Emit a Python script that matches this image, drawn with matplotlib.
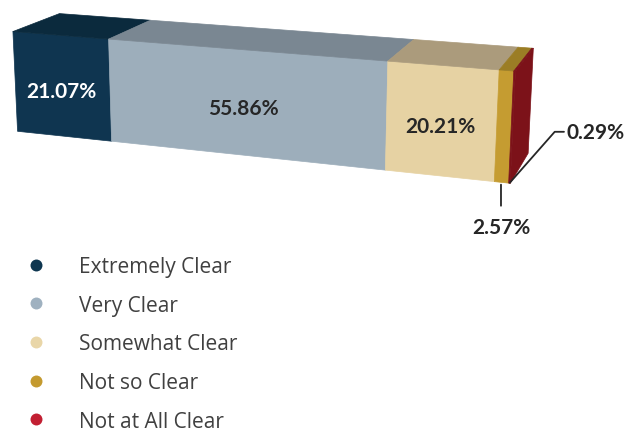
import numpy as np
import matplotlib
matplotlib.use('Agg')
import matplotlib.pyplot as plt
from matplotlib.lines import Line2D
from mpl_toolkits.mplot3d import proj3d
from mpl_toolkits.mplot3d.art3d import Poly3DCollection

# data
categories = ['Extremely Clear', 'Very Clear', 'Somewhat Clear', 'Not so Clear', 'Not at All Clear']
values = [21.07, 55.86, 20.21, 2.57, 0.29]
labels = ['21.07%', '55.86%', '20.21%', '2.57%', '0.29%']

# colours: front face, top face, legend dot
front_cols = ['#0f3550', '#9daebb', '#e6d2a3', '#c59c31', '#7c1219']
top_cols = ['#0b2a3d', '#7a8792', '#ab9b7c', '#9b7d25', '#7c1219']
dot_cols = ['#0e3650', '#9fb1c0', '#e9d6a8', '#c49a2f', '#c21f32']
label_cols = ['white', '#262626', '#262626', '#262626', '#262626']

W, HF = 626, 431
fig = plt.figure(figsize=(W / 100, HF / 100), dpi=100)

# 3d box view (fitted to look like the original perspective)
cx, cy, s = 258.45, 332.21, 516.0
ax = fig.add_axes([(cx - s / 2) / W, (cy - s / 2) / HF, s / W, s / HF], projection='3d')
ax.set_xlim(0, 100)
ax.set_ylim(0, 1)
ax.set_zlim(0, 1)
ax.set_box_aspect((100, 19.568, 20.659))
ax.view_init(14.384, -70.307)
ax.set_proj_type('persp', focal_length=0.495)
ax.computed_zorder = False
ax.set_axis_off()

cum = np.concatenate([[0], np.cumsum(values)])
for i in range(len(values)):
    c0, c1 = cum[i], cum[i + 1]
    faces = [
        ([(c0, 0, 0), (c1, 0, 0), (c1, 0, 1), (c0, 0, 1)], front_cols[i]),
        ([(c0, 0, 1), (c1, 0, 1), (c1, 1, 1), (c0, 1, 1)], top_cols[i]),
    ]
    if i == len(values) - 1:
        faces.append(([(c1, 0, 0), (c1, 1, 0), (c1, 1, 1), (c1, 0, 1)], front_cols[i]))
    for verts, col in faces:
        pc = Poly3DCollection([verts], facecolors=col, edgecolors=col, linewidths=0.5)
        pc.set_clip_on(False)
        pc.set_zorder(1)
        ax.add_collection3d(pc)

fig.canvas.draw()
M = ax.get_proj()


def to2d(x, y, z):
    xs, ys, _ = proj3d.proj_transform(np.array([x]), np.array([y]), np.array([z]), M)
    return xs[0], ys[0]


lab_font = dict(family='Lato', weight='bold', size=15)

# labels inside the bar
for i in range(3):
    px, py = to2d((cum[i] + cum[i + 1]) / 2, 0, 0.45)
    ax.text2D(px, py, labels[i], transform=ax.transData, color=label_cols[i],
              ha='center', va='center', zorder=10, **lab_font)

# small segments get leader lines
ax.annotate(labels[3], xy=to2d((cum[3] + cum[4]) / 2, 0, 0), xytext=(0, -45),
            textcoords='offset pixels', ha='center', va='center', color='#262626',
            annotation_clip=False, zorder=10,
            arrowprops=dict(arrowstyle='-', color='#262626', lw=1.3, shrinkA=6, shrinkB=2),
            **lab_font)
ax.annotate(labels[4], xy=to2d(cum[5], 0, 0), xytext=(57, 51),
            textcoords='offset pixels', ha='left', va='center', color='#262626',
            annotation_clip=False, zorder=10,
            arrowprops=dict(arrowstyle='-', color='#262626', lw=1.3, shrinkA=0, shrinkB=0,
                            connectionstyle='angle,angleA=0,angleB=48.6'),
            **lab_font)

# legend
handles = [Line2D([], [], marker='o', ls='none', markersize=8.6, markeredgewidth=0,
                  color=c) for c in dot_cols]
leg = fig.legend(handles, categories, loc='upper left', bbox_to_anchor=(25.6 / W, 0.4037),
                 frameon=False, handlelength=1.0, handletextpad=1.57, labelspacing=0.846,
                 borderpad=0, borderaxespad=0,
                 prop=dict(family='Open Sans', size=15))
for t in leg.get_texts():
    t.set_color('#404040')

fig.savefig('out.png', dpi=100)
